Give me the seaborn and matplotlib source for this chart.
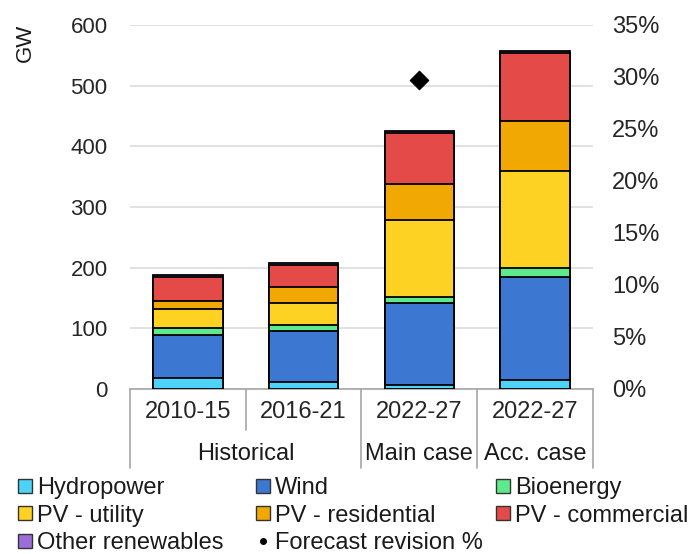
import numpy as np
import pandas as pd
import matplotlib.pyplot as plt
import matplotlib.transforms as mtransforms
from matplotlib.lines import Line2D
import seaborn as sns

# data (GW per period)
periods = ['2010-15', '2016-21', '2022-27', '2022-27']
keys = ['hist1', 'hist2', 'main', 'acc']
groups = ['Historical', 'Main case', 'Acc. case']
group_pos = [0.5, 2, 3]

hydropower = [18, 12, 7, 15]
wind = [71, 84, 135, 170]
bioenergy = [11, 10, 10, 15]
pv_utility = [31, 36, 127, 159]
pv_residential = [14, 26, 59, 82]
pv_commercial = [40, 37, 84, 113]
other = [3, 3, 3, 3]
forecast_revision = [np.nan, np.nan, 0.297, np.nan]

series = ['Hydropower', 'Wind', 'Bioenergy', 'PV - utility',
          'PV - residential', 'PV - commercial', 'Other renewables']
colors = ['#4dd3f7', '#3c78d1', '#5eea8c', '#fdd223',
          '#f2a802', '#e34a48', '#9b6fd6']

df = pd.DataFrame({'key': keys, 'Hydropower': hydropower, 'Wind': wind,
                   'Bioenergy': bioenergy, 'PV - utility': pv_utility,
                   'PV - residential': pv_residential,
                   'PV - commercial': pv_commercial,
                   'Other renewables': other})
cum = df[series].cumsum(axis=1)

sns.set_style('white')
plt.rcParams['font.family'] = ['Liberation Sans', 'DejaVu Sans']
plt.rcParams['font.size'] = 17
plt.rcParams['text.color'] = '#1a1a1a'

fig = plt.figure(figsize=(6.91, 5.54), dpi=100)
ax = fig.add_axes([0.188, 0.298, 0.670, 0.657])

# stacked bars: draw cumulative totals from top down
for s, c in reversed(list(zip(series, colors))):
    sns.barplot(x=df['key'], y=cum[s], color=c, width=0.6, order=keys,
                edgecolor='black', linewidth=1.3, saturation=1, ax=ax, zorder=3)

ax.set_ylim(0, 600)
ax.set_xlim(-0.5, len(keys) - 0.5)
ax.set_yticks(range(0, 601, 100))
ax.yaxis.grid(True, color='#dcdcdc', linewidth=1.2, zorder=0)
ax.set_axisbelow(True)
ax.set_xlabel('')
ax.set_ylabel('')
ax.set_xticks(range(len(keys)))
ax.set_xticklabels(periods, fontsize=17)
ax.tick_params(axis='y', length=0, pad=16, labelsize=16)
ax.tick_params(axis='x', length=0, pad=9)
for sp in ['left', 'right', 'top']:
    ax.spines[sp].set_visible(False)
ax.spines['bottom'].set_color('#a6a6a6')
ax.spines['bottom'].set_linewidth(1.2)

# multi-level category axis lines
trans = mtransforms.blended_transform_factory(ax.transData, ax.transAxes)
for xb, depth in zip([-0.5, 0.5, 1.5, 2.5, 3.5], [-0.217, -0.113, -0.217, -0.217, -0.217]):
    ax.plot([xb, xb], [0, depth], color='#a6a6a6', lw=1.2, transform=trans, clip_on=False)
for g, gx in zip(groups, group_pos):
    ax.text(gx, -0.18, g, transform=trans, ha='center', va='center', fontsize=17)

# forecast revision on secondary axis
ax2 = ax.twinx()
sns.scatterplot(x=np.arange(len(keys)), y=forecast_revision, marker='D', s=90,
                color='black', edgecolor='black', ax=ax2, zorder=5)
ax2.set_ylim(0, 0.35)
ticks2 = np.arange(0, 0.351, 0.05)
ax2.set_yticks(ticks2)
ax2.set_yticklabels([f'{int(round(v * 100))}%' for v in ticks2])
ax2.tick_params(axis='y', length=0, pad=14, labelsize=17)
for sp in ax2.spines.values():
    sp.set_visible(False)
ax2.set_xlim(-0.5, len(keys) - 0.5)

fig.text(0.036, 0.922, 'GW', rotation=90, ha='center', va='center', fontsize=16)

# legend: three columns placed like the original
def sq(c):
    return Line2D([], [], marker='s', linestyle='none', markersize=9.5,
                  markerfacecolor=c, markeredgecolor='#333333', markeredgewidth=1)

h = {s: sq(c) for s, c in zip(series, colors)}
h['Forecast revision %'] = Line2D([], [], marker='o', linestyle='none',
                                  markersize=4, color='black')
columns = [['Hydropower', 'PV - utility', 'Other renewables'],
           ['Wind', 'PV - residential', 'Forecast revision %'],
           ['Bioenergy', 'PV - commercial']]
col_x = [17, 255, 495]
for labels, x0 in zip(columns, col_x):
    leg = fig.legend([h[o] for o in labels], labels, loc='upper left',
                     bbox_to_anchor=(x0 / 691, 1 - 477 / 554), frameon=False,
                     handlelength=0.7, handletextpad=0.15, labelspacing=0.24,
                     borderaxespad=0, borderpad=0, fontsize=17)

fig.savefig('out.png', dpi=100)
